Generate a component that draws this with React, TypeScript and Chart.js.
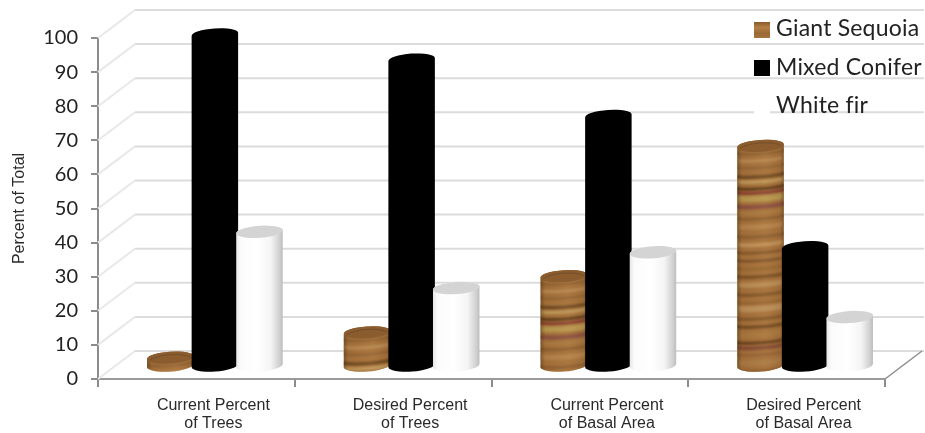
import React, { useEffect, useRef } from "react";
import { Chart, registerables } from "chart.js";

Chart.register(...registerables);

const categories = [
  ["Current Percent", "of Trees"],
  ["Desired Percent", "of Trees"],
  ["Current Percent", "of Basal Area"],
  ["Desired Percent", "of Basal Area"],
];
const giantSequoia = [2.6, 10, 26.5, 64.7];
const mixedConifer = [97.4, 90, 73.5, 35];
const whiteFir = [39.5, 23, 33.5, 14.5];
const yTicks = [0, 10, 20, 30, 40, 50, 60, 70, 80, 90, 100];

// Floor depth of the 3D box, and how far into it the cylinders stand.
const DEPTH_X = 37;
const DEPTH_Y = 28;
const BAR_SHIFT_X = 18.5;
const BAR_SHIFT_Y = 12.5;
const CAP_RY = 6;
const RING_RY = 3;
const TILT = -0.07;

// Growth rings on the wood cylinders: distance from the top, thickness, colour.
const woodRings: [number, number, string][] = [
  [5, 2, "#8a5f30"], [12, 3, "#b98a52"], [19, 2, "#8f6232"], [28, 3, "#6d4820"],
  [33, 3, "#c09a5c"], [40, 3, "#5e3c18"], [44, 3, "#8a3f30"], [50, 6, "#b8964e"],
  [58, 4, "#8b5040"], [64, 3, "#a87a40"], [70, 2, "#855a2c"], [78, 5, "#b5824a"],
  [88, 3, "#8d5f30"], [96, 4, "#c09058"], [104, 2, "#7c5026"], [112, 2, "#764c26"],
  [120, 3, "#96682f"], [128, 3, "#784e22"], [136, 5, "#b98c54"], [146, 3, "#825628"],
  [154, 2, "#946430"], [160, 6, "#bb8e58"], [170, 3, "#825628"], [178, 3, "#704820"],
  [186, 5, "#a9783e"], [194, 3, "#68401c"], [199, 4, "#854c34"], [206, 3, "#966236"],
  [214, 5, "#aa7a44"], [222, 3, "#8d5e2e"], [228, 3, "#55341a"], [234, 5, "#9b6c38"],
];

const LEGEND_ROWS = [
  { swatch: "wood", baseline: 36, swatchTop: 22 },
  { swatch: "#000000", baseline: 75, swatchTop: 60 },
  { swatch: "#ffffff", baseline: 113, swatchTop: 98 },
];

function ellipsePath(ctx: CanvasRenderingContext2D, cx: number, cy: number, rx: number) {
  ctx.beginPath();
  ctx.ellipse(cx, cy, rx, CAP_RY, TILT, 0, Math.PI * 2);
}

// Outline of a whole cylinder, cap included, so no seam shows between body and cap.
function bodyPath(ctx: CanvasRenderingContext2D, cx: number, top: number, base: number, rx: number) {
  ctx.beginPath();
  ctx.ellipse(cx, top, rx, CAP_RY, TILT, Math.PI, Math.PI * 2);
  ctx.ellipse(cx, base, rx, CAP_RY, TILT, 0, Math.PI);
  ctx.closePath();
}

function drawWood(ctx: CanvasRenderingContext2D, cx: number, top: number, base: number, rx: number) {
  ctx.save();
  bodyPath(ctx, cx, top, base, rx);
  ctx.clip();
  const area = [cx - rx - 1, top - CAP_RY - 1, rx * 2 + 2, base - top + CAP_RY * 2 + 2] as const;
  ctx.fillStyle = "#a6713a";
  ctx.fillRect(...area);
  ctx.filter = "blur(0.8px)";
  for (const [offset, size, color] of woodRings) {
    if (top + offset > base + CAP_RY) break;
    ctx.beginPath();
    ctx.ellipse(cx, top + offset, rx + 2, RING_RY, TILT, 0, Math.PI);
    ctx.lineWidth = size;
    ctx.strokeStyle = color;
    ctx.stroke();
  }
  ctx.filter = "none";
  const shade = ctx.createLinearGradient(cx - rx, 0, cx + rx, 0);
  shade.addColorStop(0, "rgba(50,30,10,0.38)");
  shade.addColorStop(0.1, "rgba(50,30,10,0.06)");
  shade.addColorStop(0.6, "rgba(255,230,190,0.05)");
  shade.addColorStop(0.92, "rgba(50,30,10,0.08)");
  shade.addColorStop(1, "rgba(50,30,10,0.35)");
  ctx.fillStyle = shade;
  ctx.fillRect(...area);
  ctx.restore();
  ellipsePath(ctx, cx, top, rx);
  ctx.fillStyle = "#8a5c2e";
  ctx.fill();
  ctx.save();
  ellipsePath(ctx, cx, top, rx);
  ctx.clip();
  ctx.beginPath();
  ctx.ellipse(cx, top + 3, rx - 2, CAP_RY, TILT, Math.PI * 1.1, Math.PI * 1.9);
  ctx.strokeStyle = "#74502a";
  ctx.lineWidth = 1;
  ctx.stroke();
  ctx.restore();
}

function drawSolid(ctx: CanvasRenderingContext2D, cx: number, top: number, base: number, rx: number) {
  bodyPath(ctx, cx, top, base, rx);
  ctx.fillStyle = "#000000";
  ctx.fill();
}

function drawWhite(ctx: CanvasRenderingContext2D, cx: number, top: number, base: number, rx: number) {
  const side = ctx.createLinearGradient(cx - rx, 0, cx + rx, 0);
  side.addColorStop(0, "#e6e6e6");
  side.addColorStop(0.1, "#fbfbfb");
  side.addColorStop(0.45, "#ffffff");
  side.addColorStop(0.74, "#f5f5f5");
  side.addColorStop(0.93, "#d0d0d0");
  side.addColorStop(1, "#bcbcbc");
  bodyPath(ctx, cx, top, base, rx);
  ctx.fillStyle = side;
  ctx.fill();
  ellipsePath(ctx, cx, top, rx);
  ctx.fillStyle = "#d4d4d4";
  ctx.fill();
}

const painters = [drawWood, drawSolid, drawWhite];

// The plain bars are replaced by cylinders placed from each bar element's own geometry.
const cylinderPlugin = {
  id: "cylinders",
  beforeDatasetDraw() {
    return false;
  },
  afterDatasetsDraw(chart: Chart) {
    const ctx = chart.ctx;
    chart.data.labels!.forEach((_, index) => {
      chart.data.datasets.forEach((_ds, di) => {
        const bar: any = chart.getDatasetMeta(di).data[index];
        const cx = bar.x + BAR_SHIFT_X;
        const top = bar.y - BAR_SHIFT_Y;
        const base = bar.base - BAR_SHIFT_Y;
        painters[di](ctx, cx, top, base, bar.width / 2 + 1);
      });
    });
  },
};

// Back wall, side wall and floor of the box, following the value axis ticks.
const boxPlugin = {
  id: "box",
  beforeDatasetsDraw(chart: Chart) {
    const { ctx, chartArea, scales } = chart;
    const { left, right } = chartArea;
    const y = scales.y;
    ctx.save();
    y.ticks.forEach((tick: any) => {
      const py = y.getPixelForValue(tick.value);
      ctx.beginPath();
      ctx.moveTo(left, py);
      ctx.lineTo(left + DEPTH_X, py - DEPTH_Y);
      ctx.strokeStyle = "#e8e8e8";
      ctx.lineWidth = 2;
      ctx.stroke();
      ctx.beginPath();
      ctx.moveTo(left + DEPTH_X, py - DEPTH_Y);
      ctx.lineTo(right + DEPTH_X + 2, py - DEPTH_Y);
      ctx.strokeStyle = "#dcdcdc";
      ctx.lineWidth = 2;
      ctx.stroke();
    });
    const floor = y.getPixelForValue(0);
    ctx.beginPath();
    ctx.moveTo(right, floor);
    ctx.lineTo(right + DEPTH_X, floor - DEPTH_Y);
    ctx.strokeStyle = "#8c8c8c";
    ctx.lineWidth = 1.5;
    ctx.stroke();
    ctx.restore();
  },
};

const legendPlugin = {
  id: "swatchLegend",
  afterDraw(chart: Chart) {
    const ctx = chart.ctx;
    ctx.save();
    ctx.font = '23px Lato, "Open Sans", sans-serif';
    ctx.textAlign = "left";
    ctx.textBaseline = "alphabetic";
    chart.data.datasets.forEach((ds, i) => {
      const row = LEGEND_ROWS[i];
      if (row.swatch === "wood") {
        const g = ctx.createLinearGradient(0, row.swatchTop, 0, row.swatchTop + 16);
        g.addColorStop(0, "#8a5a2b");
        g.addColorStop(0.35, "#b57f46");
        g.addColorStop(0.7, "#9a6a36");
        g.addColorStop(1, "#a6733e");
        ctx.fillStyle = g;
      } else {
        ctx.fillStyle = row.swatch;
      }
      ctx.fillRect(754, row.swatchTop, 16, 16);
      ctx.fillStyle = "#222222";
      ctx.letterSpacing = "0.2px";
      ctx.fillText(ds.label as string, 776, row.baseline);
    });
    ctx.restore();
  },
};

export default function App() {
  const ref = useRef<HTMLCanvasElement>(null);
  useEffect(() => {
    const chart = new Chart(ref.current!, {
      type: "bar",
      data: {
        labels: categories,
        datasets: [
          { label: "Giant Sequoia", data: giantSequoia, backgroundColor: "#a6713a" },
          { label: "Mixed Conifer", data: mixedConifer, backgroundColor: "#000000" },
          { label: "White fir", data: whiteFir, backgroundColor: "#ffffff" },
        ],
      },
      plugins: [boxPlugin, cylinderPlugin, legendPlugin],
      options: {
        responsive: false,
        animation: false,
        layout: { padding: { top: 38, right: 40, left: 0, bottom: 0 } },
        plugins: { legend: { display: false }, tooltip: { enabled: false } },
        datasets: { bar: { categoryPercentage: 0.68, barPercentage: 1 } },
        scales: {
          x: {
            grid: { offset: true, drawOnChartArea: false, tickLength: 8, color: "#8c8c8c", lineWidth: 2 },
            border: { color: "#9a9a9a", width: 2 },
            ticks: {
              font: { family: '"Liberation Sans", Arial, sans-serif', size: 16, lineHeight: 1.14 },
              color: "#2a2a2a",
              labelOffset: 17,
              padding: 9,
              maxRotation: 0,
              autoSkip: false,
            },
            afterFit(scale: any) {
              scale.height = 54;
            },
          },
          y: {
            min: 0,
            max: 100,
            afterBuildTicks(scale: any) {
              scale.ticks = yTicks.map((value) => ({ value }));
            },
            grid: { drawOnChartArea: false, tickLength: 7, color: "#8c8c8c", lineWidth: 2 },
            border: { color: "#8c8c8c", width: 2 },
            ticks: {
              font: { family: 'Lato, "Open Sans", sans-serif', size: 20 },
              color: "#222222",
              padding: 13,
            },
            title: {
              display: true,
              text: "Percent of Total",
              font: { family: '"Liberation Sans", Arial, sans-serif', size: 16 },
              color: "#2a2a2a",
              padding: { top: 10, bottom: 0 },
            },
            afterFit(scale: any) {
              scale.width = 98;
            },
          },
        },
      },
    });
    return () => chart.destroy();
  }, []);
  return (
    <div style={{ position: "fixed", left: 0, top: 0, width: 925, height: 433, background: "#ffffff" }}>
      <canvas ref={ref} width={925} height={433} style={{ display: "block" }} />
    </div>
  );
}
